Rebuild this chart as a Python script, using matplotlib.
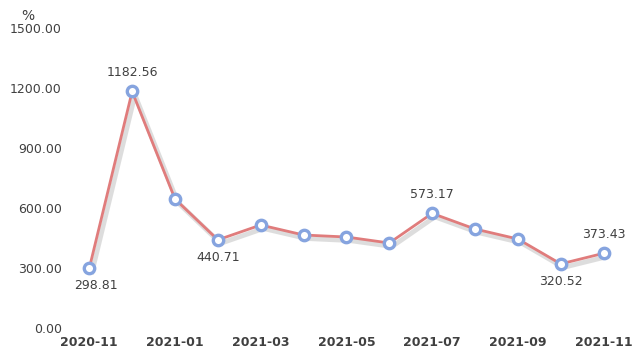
import matplotlib
matplotlib.use("Agg")
import matplotlib.pyplot as plt
import matplotlib.patheffects as pe

months = ["2020-11", "2020-12", "2021-01", "2021-02", "2021-03", "2021-04", "2021-05",
          "2021-06", "2021-07", "2021-08", "2021-09", "2021-10", "2021-11"]
values = [298.81, 1182.56, 645.0, 440.71, 515.0, 465.0, 455.0,
          425.0, 573.17, 495.0, 445.0, 320.52, 373.43]
# which points carry a label, and whether it sits above or below
labelled = {0: "below", 1: "above", 3: "below", 8: "above", 11: "below", 12: "above"}

yticks = [0, 300, 600, 900, 1200, 1500]
text_color = "#404040"

fig = plt.figure(figsize=(6.4, 3.6), dpi=100)
ax = fig.add_axes([70 / 640, 1 - 328 / 360, 555 / 640, 300 / 360])

xpos = list(range(len(values)))
ax.plot(xpos, values, color="#e07c7c", lw=2.0, zorder=2,
        path_effects=[pe.SimpleLineShadow(offset=(2, -2.5), shadow_color="#a0a0a0", alpha=0.35,
                                          linewidth=3.5),
                      pe.Normal()])
ax.plot(xpos, values, ls="none", marker="o", ms=7.5, mfc="white", mec="#86a4df",
        mew=2.4, zorder=3)

for i, where in labelled.items():
    dy = 9 if where == "above" else -8
    dx = 5 if i == 0 else 0
    ax.annotate(f"{values[i]:.2f}", (i, values[i]), xytext=(dx, dy),
                textcoords="offset points", ha="center",
                va="bottom" if where == "above" else "top",
                fontsize=9, color=text_color)

ax.set_xlim(-0.45, 12.5)
ax.set_ylim(0, 1500)
ax.set_xticks(xpos[::2])
ax.set_xticklabels(months[::2], fontsize=9, color=text_color, fontweight="bold")
ax.set_yticks(yticks)
ax.set_yticklabels([f"{v:.2f}" for v in yticks], fontsize=9, color=text_color)
ax.tick_params(length=0, pad=6)
for s in ax.spines.values():
    s.set_visible(False)

fig.text(28 / 640, 1 - 16 / 360, "%", fontsize=10, color=text_color, ha="center", va="center")

fig.savefig("out.png", dpi=100)
